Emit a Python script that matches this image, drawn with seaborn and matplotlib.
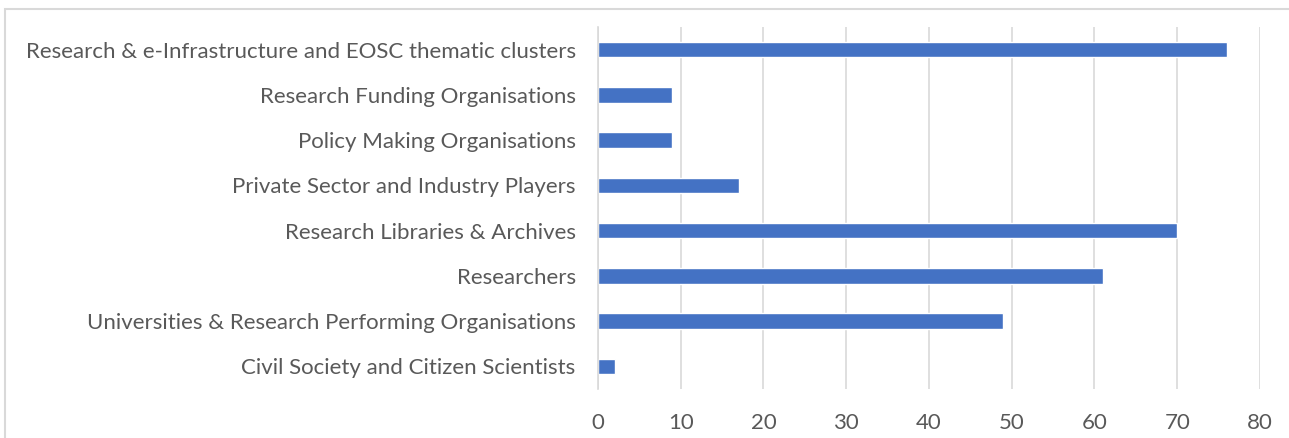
import pandas as pd
import seaborn as sns
import matplotlib.pyplot as plt
from matplotlib.patches import Rectangle

# Stakeholder groups, top to bottom as shown
categories = [
    "Research & e-Infrastructure and EOSC thematic clusters",
    "Research Funding Organisations",
    "Policy Making Organisations",
    "Private Sector and Industry Players",
    "Research Libraries & Archives",
    "Researchers",
    "Universities & Research Performing Organisations",
    "Civil Society and Citizen Scientists",
]
counts = [76, 9, 9, 17, 70, 61, 49, 2]
x_ticks = [0, 10, 20, 30, 40, 50, 60, 70, 80]

df = pd.DataFrame({"group": categories, "count": counts})

sns.set_style("white")
plt.rcParams["font.family"] = ["Lato", "DejaVu Sans"]

fig = plt.figure(figsize=(12.89, 4.38), dpi=100)
ax = fig.add_axes([0.4639, 0.1119, 0.5136, 0.8265])

sns.barplot(data=df, y="group", x="count", color="#4472C4", width=0.34,
            saturation=1, ax=ax, orient="h")

ax.set_xlim(0, 80)
ax.set_xticks(x_ticks)
ax.set_xlabel("")
ax.set_ylabel("")
ax.grid(axis="x", color="#D9D9D9", linewidth=1.2)
ax.set_axisbelow(True)
for s in ["top", "right", "bottom"]:
    ax.spines[s].set_visible(False)
ax.spines["left"].set_color("#D9D9D9")
ax.spines["left"].set_linewidth(1.2)
ax.tick_params(axis="both", length=0, labelsize=16, colors="#595959")
ax.tick_params(axis="y", pad=16)
ax.tick_params(axis="x", pad=17)

# light frame around the chart area
fig.patches.append(Rectangle((5 / 1289, -0.05), 1.1, 1 - 9 / 438 + 0.05,
                             transform=fig.transFigure, fill=False,
                             edgecolor="#D9D9D9", linewidth=1.5))

fig.savefig("out.png", dpi=100)
